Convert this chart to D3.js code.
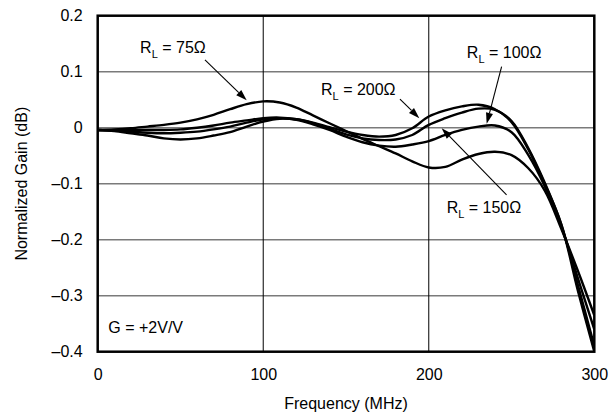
<!DOCTYPE html>
<html>
<head>
<meta charset="utf-8">
<script src="https://cdn.jsdelivr.net/npm/d3@7"></script>
<style>
    body { margin: 0; background: #fff; }
    svg { display: block; font-family: "Liberation Sans", Arial, Helvetica, sans-serif; }
</style>
</head>
<body>
<svg id="chart" width="610" height="416"></svg>
<script>
const FREQ = [0, 10, 20, 30, 40, 50, 60, 70, 80, 90, 100, 110, 120, 130, 140, 150,
    160, 170, 180, 190, 200, 210, 220, 230, 240, 250, 260, 270, 280, 290, 300];

// normalized gain (dB), one array per load
const GAIN_75 = [-0.004, -0.003, -0.001, 0.002, 0.005, 0.009, 0.015, 0.023, 0.033, 0.042, 0.047,
    0.045, 0.036, 0.022, 0.008, -0.006, -0.020, -0.033, -0.046, -0.060, -0.071, -0.070, -0.057,
    -0.047, -0.043, -0.049, -0.072, -0.112, -0.180, -0.255, -0.335];
const GAIN_100 = [-0.004, -0.006, -0.010, -0.014, -0.019, -0.021, -0.019, -0.014, -0.008, 0.002, 0.011,
    0.016, 0.014, 0.006, -0.004, -0.016, -0.026, -0.032, -0.034, -0.030, -0.024, -0.013, -0.004,
    0.002, 0.004, -0.008, -0.048, -0.104, -0.176, -0.268, -0.360];
const GAIN_150 = [-0.004, -0.005, -0.007, -0.009, -0.010, -0.009, -0.007, -0.003, 0.002, 0.009, 0.015,
    0.017, 0.015, 0.008, -0.002, -0.012, -0.019, -0.022, -0.021, -0.013, 0.005, 0.017, 0.027,
    0.034, 0.032, 0.012, -0.036, -0.098, -0.172, -0.280, -0.390];
const GAIN_200 = [-0.004, -0.004, -0.004, -0.004, -0.004, -0.003, 0.000, 0.004, 0.009, 0.013, 0.017,
    0.018, 0.015, 0.009, 0.001, -0.007, -0.013, -0.016, -0.013, -0.001, 0.020, 0.031, 0.038,
    0.041, 0.033, 0.010, -0.038, -0.100, -0.172, -0.290, -0.400];

const SERIES = [GAIN_75, GAIN_100, GAIN_150, GAIN_200];

const X_TICKS = [0, 100, 200, 300];
const Y_TICKS = [0.2, 0.1, 0, -0.1, -0.2, -0.3, -0.4];
const Y_TICK_LABELS = ['0.2', '0.1', '0', '\u20130.1', '\u20130.2', '\u20130.3', '\u20130.4'];

// callouts: label anchor, arrow tail and arrow tip in (MHz, dB)
const CALLOUTS = [
    { ohms: '75', label: [25.6, 0.133], from: [64.8, 0.121], to: [90, 0.049] },
    { ohms: '200', label: [134.9, 0.059], from: [182.6, 0.051], to: [194.3, 0.017] },
    { ohms: '100', label: [223, 0.124], from: [244, 0.109], to: [235, 0.007] },
    { ohms: '150', label: [210.8, -0.153], from: [247, -0.120], to: [207.8, -0.001] }
];
const GAIN_NOTE = { text: 'G = +2V/V', at: [6.4, -0.367] };

const WIDTH = 610, HEIGHT = 416;
const margin = { top: 15.7, right: 15.7, bottom: 64.3, left: 97.7 };

const svg = d3.select('#chart');

const x = d3.scaleLinear().domain([0, 300]).range([margin.left, WIDTH - margin.right]);
const y = d3.scaleLinear().domain([-0.4, 0.2]).range([HEIGHT - margin.bottom, margin.top]);

// grid
svg.append('g')
    .selectAll('line')
    .data(Y_TICKS.slice(1, -1))
    .join('line')
    .attr('x1', x(0)).attr('x2', x(300))
    .attr('y1', d => y(d)).attr('y2', d => y(d))
    .attr('stroke', '#7a7a7a')
    .attr('stroke-width', 1.4);

svg.append('g')
    .selectAll('line')
    .data(X_TICKS.slice(1, -1))
    .join('line')
    .attr('x1', d => x(d)).attr('x2', d => x(d))
    .attr('y1', y(0.2)).attr('y2', y(-0.4))
    .attr('stroke', '#000')
    .attr('stroke-width', 1);

// axes (labels only, the frame is drawn separately)
const xAxis = svg.append('g')
    .attr('transform', `translate(0,${y(-0.4)})`)
    .call(d3.axisBottom(x).tickValues(X_TICKS).tickSize(0).tickPadding(17));
const yAxis = svg.append('g')
    .attr('transform', `translate(${x(0)},0)`)
    .call(d3.axisLeft(y).tickValues(Y_TICKS).tickSize(0).tickPadding(15)
        .tickFormat((d, i) => Y_TICK_LABELS[i]));
[xAxis, yAxis].forEach(a => {
    a.select('.domain').remove();
    a.selectAll('text')
        .attr('font-family', null)
        .attr('font-size', 16)
        .attr('fill', '#000');
});

// curves
const line = d3.line()
    .x((d, i) => x(FREQ[i]))
    .y(d => y(d))
    .curve(d3.curveCatmullRom.alpha(0.5));

svg.append('defs').append('clipPath')
    .attr('id', 'plot-clip')
    .append('rect')
    .attr('x', x(0)).attr('y', y(0.2))
    .attr('width', x(300) - x(0))
    .attr('height', y(-0.4) - y(0.2));

svg.append('g')
    .attr('clip-path', 'url(#plot-clip)')
    .selectAll('path')
    .data(SERIES)
    .join('path')
    .attr('d', line)
    .attr('fill', 'none')
    .attr('stroke', '#000')
    .attr('stroke-width', 2.4)
    .attr('stroke-linejoin', 'round');

// frame
svg.append('rect')
    .attr('x', x(0)).attr('y', y(0.2))
    .attr('width', x(300) - x(0))
    .attr('height', y(-0.4) - y(0.2))
    .attr('fill', 'none')
    .attr('stroke', '#000')
    .attr('stroke-width', 2.5);

// callout arrows
function arrow(g, from, to) {
    const x1 = x(from[0]), y1 = y(from[1]);
    const x2 = x(to[0]), y2 = y(to[1]);
    const ang = Math.atan2(y2 - y1, x2 - x1);
    const len = 11, half = 3.6;
    const bx = x2 - len * Math.cos(ang), by = y2 - len * Math.sin(ang);
    g.append('line')
        .attr('x1', x1).attr('y1', y1)
        .attr('x2', bx).attr('y2', by)
        .attr('stroke', '#000')
        .attr('stroke-width', 1.1);
    g.append('path')
        .attr('d', `M${x2},${y2}L${bx + half * Math.sin(ang)},${by - half * Math.cos(ang)}` +
            `L${bx - half * Math.sin(ang)},${by + half * Math.cos(ang)}Z`)
        .attr('fill', '#000');
}

const notes = svg.append('g').attr('font-size', 16).attr('fill', '#000');
CALLOUTS.forEach(c => {
    const t = notes.append('text')
        .attr('x', x(c.label[0]))
        .attr('y', y(c.label[1]));
    t.append('tspan').text('R');
    t.append('tspan').attr('font-size', 11).attr('dy', 5).text('L');
    t.append('tspan').attr('dy', -5).text(` = ${c.ohms}\u03A9`);
    arrow(notes, c.from, c.to);
});

notes.append('text')
    .attr('x', x(GAIN_NOTE.at[0]))
    .attr('y', y(GAIN_NOTE.at[1]))
    .text(GAIN_NOTE.text);

// axis titles
svg.append('text')
    .attr('x', (x(0) + x(300)) / 2)
    .attr('y', 409)
    .attr('text-anchor', 'middle')
    .attr('font-size', 16)
    .text('Frequency (MHz)');

svg.append('text')
    .attr('transform', `translate(27,${(y(0.2) + y(-0.4)) / 2}) rotate(-90)`)
    .attr('text-anchor', 'middle')
    .attr('font-size', 16)
    .text('Normalized Gain (dB)');
</script>
</body>
</html>
